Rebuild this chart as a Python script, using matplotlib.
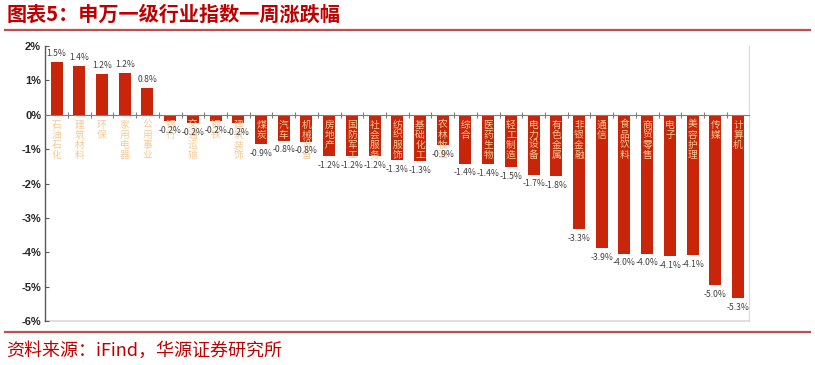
"""
申万一级行业指数一周涨跌幅 柱状图
"""

import numpy as np
import matplotlib.pyplot as plt
from matplotlib.ticker import FuncFormatter, FixedLocator

plt.rcParams["font.family"] = ["Noto Sans CJK SC", "DejaVu Sans"]
plt.rcParams["axes.unicode_minus"] = False

industries = [
    "石油石化", "建筑材料", "环保", "家用电器", "公用事业", "银行", "交通运输",
    "钢铁", "建筑装饰", "煤炭", "汽车", "机械设备", "房地产", "国防军工",
    "社会服务", "纺织服饰", "基础化工", "农林牧渔", "综合", "医药生物",
    "轻工制造", "电力设备", "有色金属", "非银金融", "通信", "食品饮料",
    "商贸零售", "电子", "美容护理", "传媒", "计算机",
]
weekly_change = [
    1.52, 1.41, 1.19, 1.21, 0.78, -0.18, -0.23, -0.19, -0.24, -0.86, -0.75,
    -0.78, -1.19, -1.21, -1.21, -1.32, -1.34, -0.87, -1.42, -1.43, -1.51,
    -1.74, -1.78, -3.33, -3.88, -4.04, -4.04, -4.10, -4.07, -4.96, -5.32,
]

BAR_RED = "#C8250A"
TITLE_RED = "#C00000"
LABEL_TAN = "#F4CA96"

fig = plt.figure(figsize=(8.15, 3.65), dpi=100)
fig.patch.set_facecolor("white")

# 标题与分隔线
fig.text(0.008, 0.962, "图表5：申万一级行业指数一周涨跌幅", color=TITLE_RED,
         fontsize=14.5, fontweight="bold", va="center", ha="left")
fig.add_artist(plt.Line2D([0.006, 0.994], [0.918, 0.918], color="#C0504D", lw=1.6))
fig.add_artist(plt.Line2D([0.006, 0.994], [0.090, 0.090], color="#C0504D", lw=1.6))
fig.text(0.008, 0.038, "资料来源：iFind，华源证券研究所", color=TITLE_RED,
         fontsize=13, va="center", ha="left")

ax = fig.add_axes([0.0555, 0.1205, 0.864, 0.7535])
x = np.arange(len(industries))
ax.bar(x, weekly_change, width=0.53, color=BAR_RED, zorder=2)

ax.set_xlim(-0.5, len(industries) - 0.5)
ax.set_ylim(-6, 2)
ax.yaxis.set_major_formatter(FuncFormatter(lambda v, _p: f"{v:.0f}%"))
ax.set_yticks(range(-6, 3))
ax.tick_params(axis="y", direction="in", length=3, width=0.8, color="#595959",
               labelsize=8, labelcolor="#262626", pad=3)
for t in ax.get_yticklabels():
    t.set_fontfamily(["Liberation Sans", "DejaVu Sans"])
    t.set_fontweight("bold")

# x 轴放在 0 线上，类别之间画短刻度
ax.spines["bottom"].set_position(("data", 0))
ax.spines["bottom"].set_color("#7F7F7F")
ax.spines["bottom"].set_linewidth(0.8)
ax.set_xticks([])
ax.xaxis.set_minor_locator(FixedLocator(x[:-1] + 0.5))
ax.tick_params(axis="x", which="minor", direction="inout", length=5,
               width=0.8, color="#7F7F7F")
ax.tick_params(axis="x", which="major", length=0)

ax.spines["left"].set_color("#595959")
ax.spines["left"].set_linewidth(1.0)
ax.spines["top"].set_visible(False)
ax.spines["right"].set_color("#D9D9D9")
ax.axhline(-6, color="#D9D9D9", lw=1.2, clip_on=False, zorder=1)

# 行业名（竖排）与数值标签
for i, (name, val) in enumerate(zip(industries, weekly_change)):
    ax.text(i, -0.14, "\n".join(name), ha="center", va="top", fontsize=7,
            color=LABEL_TAN, linespacing=1.0, zorder=3)
    if val >= 0:
        ax.annotate(f"{val:.1f}%", (i, val), xytext=(0, 3),
                    textcoords="offset points", ha="center", va="bottom",
                    fontsize=6.2, color="#404040", zorder=4)
    else:
        ax.annotate(f"{val:.1f}%", (i, val), xytext=(0, -3.5),
                    textcoords="offset points", ha="center", va="top",
                    fontsize=6.2, color="#404040", zorder=4)

fig.savefig("out.png", dpi=100)
